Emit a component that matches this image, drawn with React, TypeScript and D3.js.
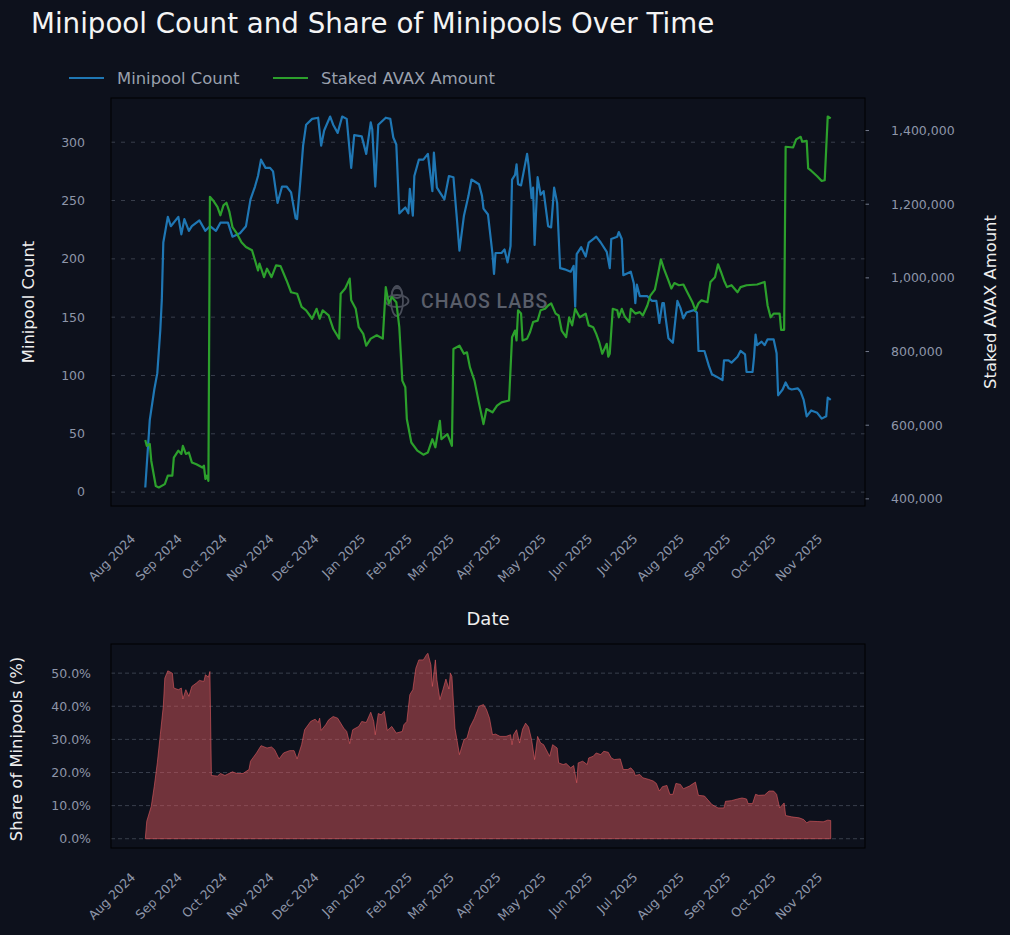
import * as d3 from "d3";

// first record of every series
const START = new Date(2024, 7, 11);

// days since START / minipool count
const countDays = [0, 3, 6, 8, 10, 11, 12, 15, 17, 22, 24, 26, 29, 31, 36, 40, 43, 47, 50, 55, 58, 63, 67, 70, 73, 75, 77, 80, 83, 85, 88, 91, 94, 97, 100, 101, 103, 105, 107, 111, 115, 117, 119, 123, 125, 128, 131, 134, 137, 139, 144, 147, 150, 151, 153, 155, 160, 163, 165, 167, 169, 173, 175, 176, 178, 179, 182, 185, 188, 191, 192, 194, 196, 199, 202, 205, 207, 209, 212, 215, 217, 222, 224, 225, 228, 231, 232, 233, 237, 239, 241, 243, 244, 246, 247, 248, 250, 254, 255, 257, 258, 259, 261, 263, 265, 268, 270, 272, 274, 276, 279, 283, 285, 286, 287, 290, 293, 295, 298, 300, 303, 307, 309, 310, 314, 315, 317, 318, 323, 325, 326, 327, 329, 334, 337, 340, 342, 344, 345, 346, 348, 351, 354, 356, 358, 360, 365, 367, 368, 372, 375, 377, 380, 384, 385, 388, 390, 394, 396, 399, 400, 404, 405, 406, 407, 410, 412, 414, 418, 420, 421, 424, 426, 428, 430, 434, 436, 438, 440, 443, 447, 450, 453, 454, 456];
const countValues = [4, 62, 88, 102, 139, 165, 214, 236, 228, 236, 221, 234, 224, 228, 233, 224, 228, 224, 231, 231, 219, 222, 228, 251, 262, 271, 285, 278, 278, 275, 248, 262, 262, 257, 235, 234, 264, 297, 315, 320, 321, 297, 310, 322, 315, 308, 322, 320, 278, 306, 305, 290, 317, 311, 262, 315, 321, 320, 304, 298, 239, 244, 239, 260, 237, 271, 285, 285, 290, 258, 291, 261, 257, 251, 271, 270, 239, 207, 237, 254, 268, 264, 254, 243, 238, 204, 187, 205, 205, 208, 197, 211, 268, 272, 281, 264, 263, 290, 280, 252, 261, 212, 270, 255, 258, 228, 227, 261, 248, 192, 191, 189, 194, 159, 204, 210, 202, 214, 217, 219, 214, 206, 192, 217, 219, 223, 217, 186, 189, 179, 162, 178, 168, 168, 164, 164, 145, 162, 162, 151, 132, 128, 164, 158, 149, 154, 156, 154, 121, 121, 108, 101, 99, 96, 113, 113, 111, 116, 121, 118, 103, 103, 116, 135, 126, 129, 126, 131, 131, 119, 83, 88, 94, 89, 88, 89, 86, 79, 65, 70, 68, 63, 65, 81, 79];

// days since START / staked AVAX
const stakedDays = [0, 1, 3, 4, 7, 9, 13, 15, 18, 19, 22, 24, 25, 27, 29, 31, 34, 38, 39, 40, 41, 42, 43, 45, 48, 50, 52, 54, 56, 58, 61, 64, 67, 71, 73, 75, 76, 79, 81, 84, 87, 90, 94, 97, 101, 104, 107, 111, 114, 116, 118, 122, 125, 129, 130, 133, 136, 137, 140, 142, 145, 147, 150, 154, 158, 160, 162, 164, 167, 169, 171, 173, 174, 177, 181, 185, 188, 191, 193, 196, 197, 201, 204, 205, 209, 212, 214, 216, 219, 222, 225, 227, 231, 234, 237, 242, 244, 246, 247, 248, 250, 251, 254, 256, 258, 261, 263, 266, 268, 270, 273, 275, 277, 280, 282, 284, 286, 289, 293, 295, 298, 300, 302, 304, 307, 308, 309, 311, 314, 315, 317, 319, 322, 323, 326, 329, 331, 334, 336, 339, 341, 343, 345, 348, 350, 352, 355, 358, 360, 364, 366, 368, 370, 374, 376, 379, 381, 383, 385, 387, 390, 394, 396, 400, 407, 412, 414, 416, 418, 422, 423, 425, 426, 431, 433, 436, 437, 440, 441, 443, 447, 450, 452, 454, 456];
const stakedValues = [560000, 544000, 549000, 503000, 435000, 431000, 440000, 463000, 463000, 512000, 531000, 522000, 544000, 522000, 526000, 499000, 494000, 485000, 490000, 454000, 463000, 449000, 1220000, 1211000, 1193000, 1170000, 1197000, 1204000, 1179000, 1138000, 1120000, 1097000, 1084000, 1075000, 1048000, 1020000, 1039000, 1002000, 1025000, 1002000, 1034000, 1032000, 993000, 961000, 957000, 921000, 912000, 889000, 916000, 889000, 912000, 898000, 862000, 835000, 957000, 971000, 998000, 939000, 916000, 866000, 848000, 816000, 835000, 844000, 835000, 975000, 930000, 948000, 934000, 866000, 721000, 703000, 617000, 553000, 531000, 520000, 526000, 562000, 540000, 612000, 562000, 576000, 544000, 807000, 816000, 794000, 798000, 757000, 721000, 660000, 603000, 644000, 635000, 653000, 662000, 667000, 839000, 857000, 830000, 912000, 903000, 830000, 835000, 853000, 880000, 884000, 912000, 916000, 925000, 931000, 903000, 898000, 857000, 839000, 893000, 871000, 916000, 893000, 903000, 871000, 866000, 848000, 825000, 794000, 821000, 786000, 794000, 916000, 912000, 893000, 916000, 895000, 880000, 916000, 903000, 907000, 898000, 925000, 952000, 968000, 1007000, 1050000, 1025000, 993000, 971000, 986000, 980000, 982000, 966000, 934000, 912000, 931000, 939000, 934000, 989000, 1002000, 1037000, 1016000, 993000, 975000, 980000, 961000, 975000, 980000, 982000, 989000, 925000, 893000, 903000, 903000, 859000, 859000, 1356000, 1354000, 1376000, 1383000, 1370000, 1372000, 1297000, 1291000, 1276000, 1263000, 1265000, 1438000, 1433000];

// days since START / share of minipools (%)
const shareDays = [0, 1, 4, 6, 8, 10, 12, 13, 15, 18, 19, 22, 24, 25, 27, 29, 31, 34, 36, 39, 40, 42, 43, 44, 48, 50, 53, 58, 61, 65, 69, 70, 74, 77, 81, 84, 86, 89, 92, 96, 99, 101, 104, 106, 110, 113, 115, 116, 117, 120, 122, 125, 128, 132, 134, 136, 138, 142, 144, 147, 150, 152, 153, 155, 157, 159, 161, 164, 167, 171, 172, 174, 176, 178, 180, 182, 185, 187, 188, 190, 191, 193, 194, 196, 198, 200, 202, 203, 204, 206, 209, 212, 214, 216, 219, 222, 225, 227, 229, 231, 233, 236, 240, 243, 244, 245, 247, 249, 251, 253, 255, 257, 259, 261, 263, 265, 269, 271, 274, 275, 278, 280, 283, 285, 287, 288, 291, 294, 295, 298, 300, 303, 305, 308, 310, 312, 316, 318, 321, 323, 325, 326, 329, 331, 335, 338, 340, 342, 344, 347, 349, 351, 353, 356, 358, 362, 366, 368, 372, 377, 381, 385, 386, 390, 394, 397, 400, 401, 404, 406, 408, 412, 415, 418, 420, 422, 425, 426, 430, 435, 438, 440, 442, 447, 451, 454, 456];
const sharePct = [0, 5.3, 9.8, 15.9, 22.9, 31.4, 40, 48.5, 50.7, 50, 45.5, 45, 45.5, 42.2, 45, 43, 46, 47, 47.8, 47.5, 49.5, 48.8, 50.5, 19.1, 18.9, 19.7, 19.1, 20.2, 19.7, 19.7, 20.9, 23.4, 25.9, 28.1, 27.4, 27.7, 26.9, 24.1, 25.9, 26.6, 26.6, 24.1, 28.4, 32.9, 35.4, 36.1, 35.1, 36.4, 32.7, 34.4, 35.9, 36.9, 36.4, 33.4, 32.4, 28.7, 32.9, 33.9, 35.4, 35.1, 38.2, 35.4, 31.4, 37.8, 37.4, 38.5, 32.7, 33.9, 31.9, 32.4, 34.4, 35.4, 43.5, 45, 51.5, 54, 54, 55.5, 56, 52.5, 46, 54, 48, 42, 45, 48.2, 45.2, 50, 49, 33.4, 25.4, 29.9, 30.4, 33.7, 36.4, 40, 40.5, 39, 36.4, 31.4, 31.6, 30.9, 30.9, 31.4, 28.4, 31.4, 32.9, 28.9, 33.1, 34.9, 33.7, 29.9, 23.9, 30.9, 28.9, 28.4, 24.9, 28.4, 27.4, 22.9, 22.4, 22.7, 21.4, 22.1, 16.9, 22.9, 23.4, 22.4, 24.4, 24.9, 25.9, 25.4, 26.4, 26.1, 24.4, 23.9, 24.1, 20.9, 20.9, 21.4, 20.4, 19.1, 19.4, 18.4, 17.9, 17.4, 16.7, 14.4, 15.7, 16.1, 13.4, 13.4, 16.7, 16.4, 15.1, 15.9, 17.1, 13.1, 12.9, 10.3, 9.3, 9.3, 11.3, 11.5, 12, 12.3, 12, 10.6, 10.6, 13.4, 13.1, 13.2, 14.4, 14.4, 13.4, 9.3, 10.8, 7, 6.6, 6.3, 5.8, 4.8, 5.3, 5.2, 5.1, 5.6, 5.5];

const monthLabels = ["Aug 2024", "Sep 2024", "Oct 2024", "Nov 2024", "Dec 2024", "Jan 2025", "Feb 2025", "Mar 2025", "Apr 2025", "May 2025", "Jun 2025", "Jul 2025", "Aug 2025", "Sep 2025", "Oct 2025", "Nov 2025"];
const countTicks = [0, 50, 100, 150, 200, 250, 300];
const stakedTicks = [400000, 600000, 800000, 1000000, 1200000, 1400000];
const shareTicks = [0, 10, 20, 30, 40, 50];

const BG = "#0d111c";
const FONT = "DejaVu Sans, sans-serif";
const TICK = "#8e96a9";
const BLUE = "#1f77b4";
const GREEN = "#2ca02c";
const RED = "#e05a5f";

type Pt = [Date, number];

const toDate = (d: number) => d3.timeDay.offset(START, d);
const zip = (days: number[], vals: number[]): Pt[] =>
  days.map((d, i) => [toDate(d), vals[i]]);

// matplotlib-like 5% padding
const pad = (lo: number, hi: number): [number, number] => {
  const m = (hi - lo) * 0.05;
  return [lo - m, hi + m];
};

export default function App() {
  const W = 1010;
  const H = 935;
  const top = { left: 111, right: 865, top: 98, bottom: 506 };
  const bot = { left: 111, right: 865, top: 644, bottom: 848 };

  const countData = zip(countDays, countValues);
  const stakedData = zip(stakedDays, stakedValues);
  const shareData = zip(shareDays, sharePct);

  const t0 = toDate(0).getTime();
  const t1 = toDate(d3.max(countDays) as number).getTime();
  const [d0, d1] = pad(t0, t1);

  const x = d3.scaleTime().domain([new Date(d0), new Date(d1)]).range([top.left, top.right]);

  const yCount = d3
    .scaleLinear()
    .domain(pad(d3.min(countValues) as number, d3.max(countValues) as number))
    .range([top.bottom, top.top]);
  const yStaked = d3
    .scaleLinear()
    .domain(pad(d3.min(stakedValues) as number, d3.max(stakedValues) as number))
    .range([top.bottom, top.top]);
  const yShare = d3
    .scaleLinear()
    .domain(pad(0, d3.max(sharePct) as number))
    .range([bot.bottom, bot.top]);

  const countLine = d3.line<Pt>().x((d) => x(d[0])).y((d) => yCount(d[1]))(countData) || "";
  const stakedLine = d3.line<Pt>().x((d) => x(d[0])).y((d) => yStaked(d[1]))(stakedData) || "";
  const shareArea =
    d3
      .area<Pt>()
      .x((d) => x(d[0]))
      .y0(yShare(0))
      .y1((d) => yShare(d[1]))(shareData) || "";

  const parseMonth = d3.timeParse("%b %Y");
  const months = monthLabels.map((m) => ({ label: m, date: parseMonth(m) as Date }));

  const xLabels = (y: number) =>
    months.map((m) => {
      const px = x(m.date) + 6;
      return (
        <text
          key={m.label + y}
          x={px}
          y={y}
          fill={TICK}
          fontSize={12.5}
          textAnchor="end"
          transform={`rotate(-45 ${px} ${y})`}
        >
          {m.label}
        </text>
      );
    });

  return (
    <svg
      width={W}
      height={H}
      style={{ position: "fixed", left: 0, top: 0, display: "block" }}
      fontFamily={FONT}
    >
      <rect width={W} height={H} fill={BG} />

      <text x={31} y={32.5} fill="#f4f4f4" fontSize={27.7}>
        Minipool Count and Share of Minipools Over Time
      </text>

      {/* legend */}
      <line x1={69} x2={104} y1={78} y2={78} stroke={BLUE} strokeWidth={2.2} />
      <text x={117} y={84} fill="#9aa0ad" fontSize={16.4}>
        Minipool Count
      </text>
      <line x1={273} x2={308} y1={78} y2={78} stroke={GREEN} strokeWidth={2.2} />
      <text x={321} y={84} fill="#9aa0ad" fontSize={16.4}>
        Staked AVAX Amount
      </text>

      {/* ---- top panel ---- */}
      {countTicks.map((t) => (
        <g key={"c" + t}>
          <line
            x1={top.left}
            x2={top.right}
            y1={yCount(t)}
            y2={yCount(t)}
            stroke="#444a58"
            strokeWidth={0.8}
            strokeDasharray="4,6"
          />
          <text x={85} y={yCount(t)} dy="0.35em" fill={TICK} fontSize={12.5} textAnchor="end">
            {t}
          </text>
        </g>
      ))}
      {stakedTicks.map((t) => (
        <g key={"s" + t}>
          <line x1={top.right} x2={top.right + 4} y1={yStaked(t)} y2={yStaked(t)} stroke={TICK} strokeWidth={0.8} />
          <text x={891} y={yStaked(t)} dy="0.35em" fill={TICK} fontSize={12.5}>
            {d3.format(",")(t)}
          </text>
        </g>
      ))}

      {/* watermark */}
      <g opacity={0.55} stroke="#7a7f8c" strokeWidth={1.8} fill="none">
        <ellipse cx={397} cy={301} rx={6} ry={15} />
        <ellipse cx={397} cy={301} rx={11.5} ry={6} />
        <circle cx={397} cy={293} r={5} />
      </g>
      <text x={421} y={307.7} fill="#7a7f8c" opacity={0.7} fontSize={19.5} fontFamily="Roboto, sans-serif" fontWeight={500} letterSpacing={1}>
        CHAOS LABS
      </text>

      <path d={countLine} fill="none" stroke={BLUE} strokeWidth={2.2} strokeLinejoin="round" />
      <path d={stakedLine} fill="none" stroke={GREEN} strokeWidth={2.2} strokeLinejoin="round" />

      <rect
        x={top.left}
        y={top.top}
        width={top.right - top.left}
        height={top.bottom - top.top}
        fill="none"
        stroke="#000"
        strokeWidth={1}
      />
      {xLabels(top.bottom + 33.5)}

      <text
        x={0}
        y={0}
        transform={`translate(34 ${(top.top + top.bottom) / 2}) rotate(-90)`}
        textAnchor="middle"
        fill="#eeeeee"
        fontSize={16.4}
      >
        Minipool Count
      </text>
      <text
        x={0}
        y={0}
        transform={`translate(996 ${(top.top + top.bottom) / 2}) rotate(-90)`}
        textAnchor="middle"
        fill="#eeeeee"
        fontSize={16.4}
      >
        Staked AVAX Amount
      </text>
      <text x={488} y={625} textAnchor="middle" fill="#eeeeee" fontSize={18}>
        Date
      </text>

      {/* ---- bottom panel ---- */}
      {shareTicks.map((t) => (
        <g key={"p" + t}>
          <line
            x1={bot.left}
            x2={bot.right}
            y1={yShare(t)}
            y2={yShare(t)}
            stroke="#444a58"
            strokeWidth={0.8}
            strokeDasharray="4,3"
          />
          <text x={91} y={yShare(t)} dy="0.35em" fill={TICK} fontSize={12.5} textAnchor="end">
            {t.toFixed(1)}%
          </text>
        </g>
      ))}
      <path d={shareArea} fill={RED} fillOpacity={0.48} stroke={RED} strokeOpacity={0.6} strokeWidth={1} />
      <rect
        x={bot.left}
        y={bot.top}
        width={bot.right - bot.left}
        height={bot.bottom - bot.top}
        fill="none"
        stroke="#000"
        strokeWidth={1}
      />
      {xLabels(bot.bottom + 30)}
      <text
        x={0}
        y={0}
        transform={`translate(22 ${(bot.top + bot.bottom) / 2 + 3}) rotate(-90)`}
        textAnchor="middle"
        fill="#eeeeee"
        fontSize={16.4}
      >
        Share of Minipools (%)
      </text>
    </svg>
  );
}
